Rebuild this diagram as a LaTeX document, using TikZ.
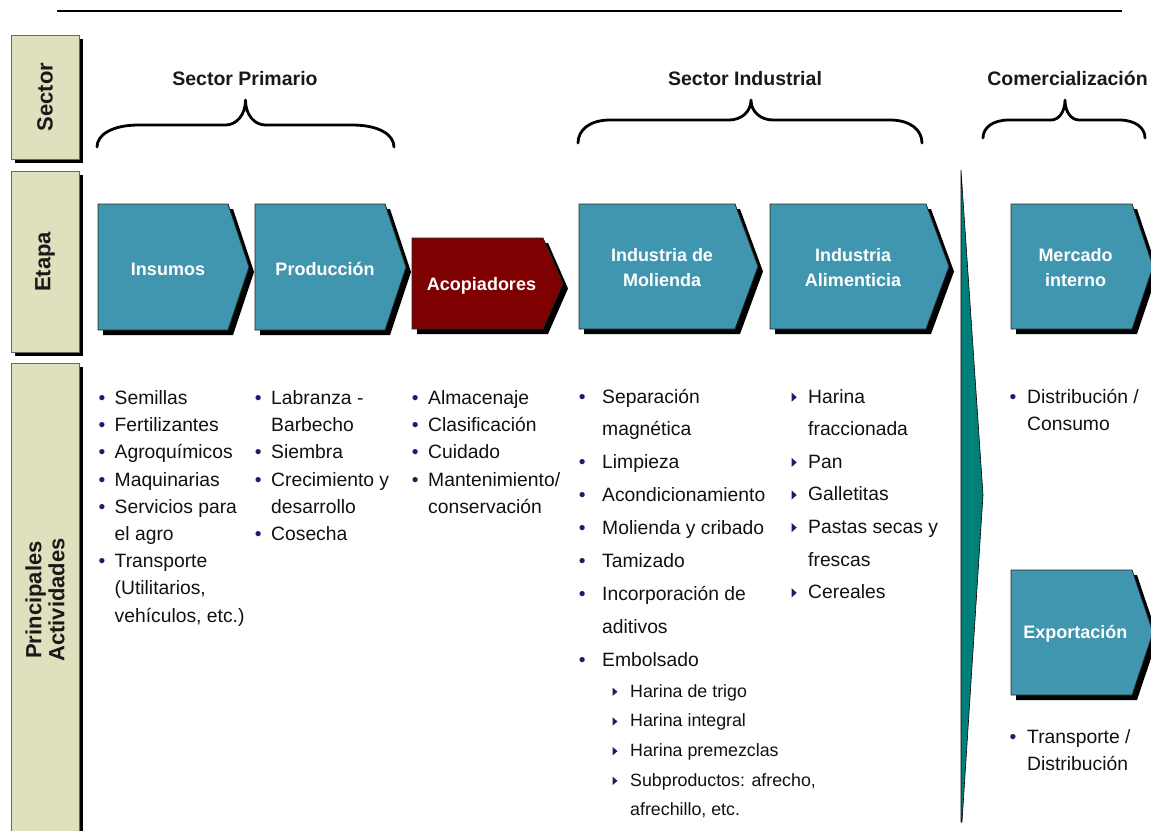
\documentclass[tikz,border=0pt]{standalone}
\usepackage{fontspec}
\setmainfont{Liberation Sans}
\definecolor{beige}{HTML}{E0E0BF}
\definecolor{chevteal}{HTML}{4196AF}
\definecolor{chevred}{HTML}{7F0000}
\definecolor{wedgec}{HTML}{007F7B}
\definecolor{navy}{HTML}{1C1C6C}
\definecolor{txt}{HTML}{111111}
\newcommand\chevpath[5]{(#1,#2) -- (#4,#2) -- (#5,{(#2+#3)/2}) -- (#4,#3) -- (#1,#3) -- cycle}
\newcommand\bb[1]{\makebox[#1][l]{\textcolor{navy}{•}}}
\newcommand\nb[1]{\hspace*{#1}}
% curly brace: x1, x2, xc, ybottom, ymid, ytip, end-curl width, tip-curl width
\newcommand\cbrace[8]{%
  \draw[curly] (#1,#4) .. controls (#1,{#5+0.45*(#4-#5)}) and ({#1+0.35*#7},#5) .. ({#1+#7},#5)
    -- ({#3-#8},#5) .. controls ({#3-0.45*#8},#5) and (#3,{#5-0.4*(#5-#6)}) .. (#3,#6)
    .. controls (#3,{#5-0.4*(#5-#6)}) and ({#3+0.45*#8},#5) .. ({#3+#8},#5)
    -- ({#2-#7},#5) .. controls ({#2-0.35*#7},#5) and (#2,{#5+0.45*(#4-#5)}) .. (#2,#4);}
\begin{document}
\begin{tikzpicture}[x=1pt,y=-1pt,
  sidebox/.style={fill=beige, draw=black!60, line width=0.8pt},
  shade/.style={fill=black},
  chev/.style={draw=black!85, line width=0.8pt},
  chevtxt/.style={text=white, font=\bfseries\fontsize{18}{25}\selectfont, inner sep=0pt, align=center},
  sidetxt/.style={text=black!90, font=\bfseries\fontsize{22}{23}\selectfont, inner sep=0pt, align=center, rotate=90},
  head/.style={text=black!90, font=\bfseries\fontsize{19.5}{24}\selectfont, inner sep=0pt, anchor=base},
  curly/.style={line width=2.8pt, line cap=round, line join=round},
  lst/.style={anchor=base west, inner sep=0pt, text=txt, font=\fontsize{19.3}{23}\selectfont},
  sublst/.style={anchor=base west, inner sep=0pt, text=txt, font=\fontsize{17.8}{21}\selectfont},
  tri/.style={fill=navy}
]
\useasboundingbox (0,0) rectangle (1151,830);
\fill[white] (0,0) rectangle (1151,830);

% top rule
\draw[line width=1.2pt] (57,11) -- (1122,11);

% side boxes
\fill[shade] (15,39) rectangle (83,163);
\draw[sidebox] (11,35) rectangle (79,159);
\fill[shade] (15,175) rectangle (83,356);
\draw[sidebox] (11,171) rectangle (79,352);
\fill[shade] (15,367) rectangle (83,850);
\draw[sidebox] (11,363) rectangle (79,846);
\node[sidetxt] (lsector) at (45,97) {Sector};
\node[sidetxt] (letapa) at (45,262) {Etapa};
\node[sidetxt] (lact) at (45,600) {Principales\\Actividades};

% headings and braces
\node[head] (hprim) at (245,85.5) {Sector Primario};
\node[head] (hind) at (745,85.5) {Sector Industrial};
\node[head] (hcom) at (1067.5,85.5) {Comercialización};
\cbrace{97}{394}{245.5}{147}{125}{100}{42}{20}
\cbrace{578}{922}{751}{143}{120}{100}{32}{22}
\cbrace{983}{1145}{1065}{138}{120}{100}{26}{14}

% wedge
\draw[fill=wedgec, draw=black, line width=0.6pt] (961,170) -- (983,495) -- (962,822) -- (961,822) -- cycle;

% chevrons
\fill[shade, shift={(5,5)}] \chevpath{98}{204}{330}{228}{249};
\draw[chev, fill=chevteal] \chevpath{98}{204}{330}{228}{249};
\fill[shade, shift={(5,5)}] \chevpath{255}{204}{330}{385}{406};
\draw[chev, fill=chevteal] \chevpath{255}{204}{330}{385}{406};
\fill[shade, shift={(5,5)}] \chevpath{412}{238}{329}{543}{563};
\draw[chev, fill=chevred] \chevpath{412}{238}{329}{543}{563};
\fill[shade, shift={(5,5)}] \chevpath{579}{204}{329}{735}{758};
\draw[chev, fill=chevteal] \chevpath{579}{204}{329}{735}{758};
\fill[shade, shift={(5,5)}] \chevpath{770}{204}{329}{926}{949};
\draw[chev, fill=chevteal] \chevpath{770}{204}{329}{926}{949};
\fill[shade, shift={(5,5)}] \chevpath{1011}{204}{329}{1132}{1153};
\draw[chev, fill=chevteal] \chevpath{1011}{204}{329}{1132}{1153};
\fill[shade, shift={(5,5)}] \chevpath{1011}{570}{695}{1132}{1153};
\draw[chev, fill=chevteal] \chevpath{1011}{570}{695}{1132}{1153};

\node[chevtxt, anchor=base] (cins) at (168,275.5) {Insumos};
\node[chevtxt, anchor=base] (cprod) at (325,275.5) {Producción};
\node[chevtxt, anchor=base] (cacop) at (481.5,290) {Acopiadores};
\node[chevtxt] (cmol) at (662,268) {Industria de\\Molienda};
\node[chevtxt] (calim) at (853,268) {Industria\\Alimenticia};
\node[chevtxt] (cmerc) at (1075.5,268) {Mercado\\interno};
\node[chevtxt, anchor=base] (cexp) at (1075.3,638) {Exportación};

% column 1
\foreach \t [count=\i from 0] in {{\bb{16.2pt}Semillas},{\bb{16.2pt}Fertilizantes},{\bb{16.2pt}Agroquímicos},{\bb{16.2pt}Maquinarias},{\bb{16.2pt}Servicios para},{\nb{16.2pt}el agro},{\bb{16.2pt}Transporte},{\nb{16.2pt}(Utilitarios,},{\nb{16.2pt}vehículos, etc.)}}
  \node[lst] (ins\i) at (98.3,{404.5+27.2*\i}) {\t};

% column 2
\foreach \t [count=\i from 0] in {{\bb{16.4pt}Labranza -},{\nb{16.4pt}Barbecho},{\bb{16.4pt}Siembra},{\bb{16.4pt}Crecimiento y},{\nb{16.4pt}desarrollo},{\bb{16.4pt}Cosecha}}
  \node[lst] (pro\i) at (254.6,{404.5+27.2*\i}) {\t};

% column 3
\foreach \t [count=\i from 0] in {{\bb{16.4pt}Almacenaje},{\bb{16.4pt}Clasificación},{\bb{16.4pt}Cuidado},{\bb{16.4pt}Mantenimiento/},{\nb{16.4pt}conservación}}
  \node[lst] (aco\i) at (411.6,{404.5+27.2*\i}) {\t};

% column 4
\foreach \t [count=\i from 0] in {{\bb{23.4pt}Separación},{\nb{23.4pt}magnética},{\bb{23.4pt}Limpieza},{\bb{23.4pt}Acondicionamiento},{\bb{23.4pt}Molienda y cribado},{\bb{23.4pt}Tamizado},{\bb{23.4pt}Incorporación de},{\nb{23.4pt}aditivos},{\bb{23.4pt}Embolsado}}
  \node[lst] (mol\i) at (578.6,{403+32.9*\i}) {\t};
\foreach \t [count=\i from 0] in {{Harina de trigo},{Harina integral},{Harina premezclas},{Subproductos: afrecho,},{afrechillo, etc.}}
  \node[sublst] (sub\i) at (630,{697+29.7*\i}) {\t};
\foreach \b in {697,726.7,756.4,786.1}
  \fill[tri] (612.5,\b-9.5) -- (612.5,\b-1) -- (617.5,\b-5.25) -- cycle;

% column 5
\foreach \t [count=\i from 0] in {{Harina},{fraccionada},{Pan},{Galletitas},{Pastas secas y},{frescas},{Cereales}}
  \node[lst] (ali\i) at (808,{403+32.6*\i}) {\t};
\foreach \b in {403,468.2,500.8,533.4,598.6}
  \fill[tri] (791.7,\b-10.3) -- (791.7,\b-1.3) -- (796.7,\b-5.8) -- cycle;

% column 6
\node[lst] (mer0) at (1009.3,403) {\bb{17.7pt}Distribución /};
\node[lst] (mer1) at (1009.3,430) {\nb{17.7pt}Consumo};
\node[lst] (exp0) at (1009.3,743) {\bb{17.7pt}Transporte /};
\node[lst] (exp1) at (1009.3,770) {\nb{17.7pt}Distribución};
\end{tikzpicture}
\end{document}
